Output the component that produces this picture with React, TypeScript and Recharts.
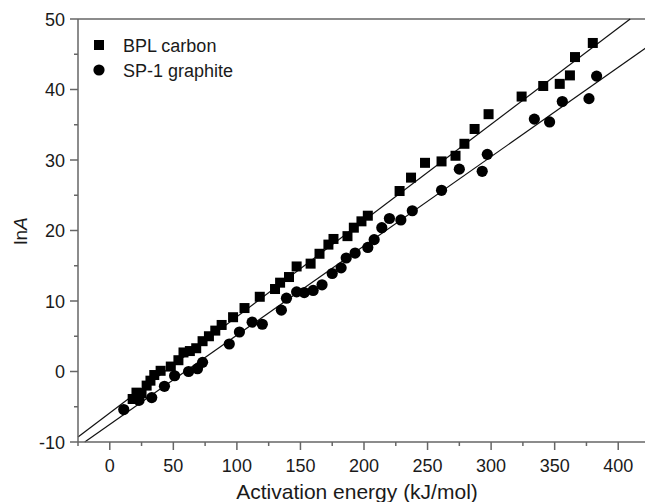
import {
  ComposedChart,
  Line,
  ReferenceLine,
  Scatter,
  XAxis,
  YAxis,
} from "recharts";

// ln A vs activation energy
const bplCarbon = [
  [18, -3.9], [21, -3.0], [25, -3.1], [29, -2.0], [32, -1.3], [35, -0.5],
  [40, 0.1], [48, 0.7], [54, 1.6], [58, 2.7], [63, 2.9], [68, 3.3],
  [73, 4.3], [78, 5.0], [83, 5.8], [88, 6.6], [97, 7.7], [106, 9.0],
  [118, 10.6], [130, 11.7], [134, 12.6], [141, 13.4], [147, 14.9],
  [158, 15.3], [165, 16.7], [172, 18.0], [176, 18.8], [187, 19.2],
  [192, 20.4], [198, 21.3], [203, 22.1], [228, 25.6], [237, 27.5],
  [248, 29.6], [261, 29.8], [272, 30.6], [279, 32.3], [287, 34.4],
  [298, 36.5], [324, 39.0], [341, 40.5], [354, 40.8], [362, 42.0],
  [366, 44.6], [380, 46.6],
];

const sp1Graphite = [
  [11, -5.4], [23, -4.1], [33, -3.7], [43, -2.1], [51, -0.6], [62, 0.0],
  [69, 0.4], [73, 1.3], [94, 3.9], [102, 5.6], [112, 7.0], [120, 6.7],
  [135, 8.7], [139, 10.4], [147, 11.3], [153, 11.2], [160, 11.5],
  [167, 12.3], [175, 13.9], [182, 14.7], [186, 16.1], [193, 16.8],
  [203, 17.6], [208, 18.7], [214, 20.4], [220, 21.7], [229, 21.5],
  [238, 22.8], [261, 25.7], [275, 28.7], [293, 28.4], [297, 30.8],
  [334, 35.8], [346, 35.4], [356, 38.3], [377, 38.7], [383, 41.9],
];

// end points of the two linear fits as drawn
const bplFit = [[-25, -9.3], [409.4, 50]];
const sp1Fit = [[-19.7, -10], [425, 46.3]];

const seriesNames = ["BPL carbon", "SP-1 graphite"];

const xTicks = [-25, 0, 25, 50, 75, 100, 125, 150, 175, 200, 225, 250, 275, 300, 325, 350, 375, 400, 425];
const yTicks = [-10, -5, 0, 5, 10, 15, 20, 25, 30, 35, 40, 45, 50];

const toPts = (arr: number[][]) => arr.map(([x, y]) => ({ x, y }));

const FONT = "'Liberation Sans', Arial, sans-serif";
const AXIS = "#666";
const TEXT = "#1a1a1a";

const XTick = ({ x, y, payload }: any) => {
  const major = payload.value % 50 === 0;
  return (
    <g>
      <line x1={x} x2={x} y1={y} y2={y + (major ? 8 : 4)} stroke={AXIS} strokeWidth={1.5} />
      {major && (
        <text x={x} y={y + 30} textAnchor="middle" fontSize={18} fill={TEXT} fontFamily={FONT}>
          {payload.value}
        </text>
      )}
    </g>
  );
};

const YTick = ({ x, y, payload }: any) => {
  const major = payload.value % 10 === 0;
  return (
    <g>
      <line x1={x} x2={x - (major ? 8 : 4)} y1={y} y2={y} stroke={AXIS} strokeWidth={1.5} />
      {major && (
        <text x={x - 13} y={y + 6.5} textAnchor="end" fontSize={18} fill={TEXT} fontFamily={FONT}>
          {payload.value}
        </text>
      )}
    </g>
  );
};

const square = ({ cx, cy }: any) => <rect x={cx - 5} y={cy - 5} width={10} height={10} fill="#000" />;
const circle = ({ cx, cy }: any) => <circle cx={cx} cy={cy} r={5.6} fill="#000" />;

export default function App() {
  return (
    <div style={{ position: "absolute", left: 0, top: 0, width: 645, height: 502, overflow: "hidden", background: "#fff" }}>
      <ComposedChart width={660} height={502} margin={{ top: 19, right: 10, bottom: 0, left: 0 }}>
        <XAxis
          type="number"
          dataKey="x"
          domain={[-25, 425]}
          ticks={xTicks}
          interval={0}
          height={60}
          tickSize={0}
          tickMargin={0}
          tickLine={false}
          axisLine={{ stroke: AXIS, strokeWidth: 1.5 }}
          tick={<XTick />}
          label={{
            content: () => (
              <text x={357} y={499} textAnchor="middle" fontSize={21} fill={TEXT} fontFamily={FONT}>
                Activation energy (kJ/mol)
              </text>
            ),
          }}
        />
        <YAxis
          type="number"
          dataKey="y"
          domain={[-10, 50]}
          ticks={yTicks}
          interval={0}
          width={78}
          tickSize={0}
          tickMargin={0}
          tickLine={false}
          axisLine={{ stroke: AXIS, strokeWidth: 1.5 }}
          tick={<YTick />}
          label={{
            content: () => (
              <text
                x={27}
                y={231}
                transform="rotate(-90, 27, 231)"
                textAnchor="middle"
                fontSize={19}
                fill={TEXT}
                fontFamily={FONT}
              >
                ln<tspan fontStyle="italic">A</tspan>
              </text>
            ),
          }}
        />
        <ReferenceLine y={50} stroke={AXIS} strokeWidth={1.5} />
        <ReferenceLine x={425} stroke={AXIS} strokeWidth={1.5} />
        <Line data={toPts(bplFit)} dataKey="y" type="linear" stroke="#111" strokeWidth={1.2} dot={false} isAnimationActive={false} />
        <Line data={toPts(sp1Fit)} dataKey="y" type="linear" stroke="#111" strokeWidth={1.2} dot={false} isAnimationActive={false} />
        <Scatter name={seriesNames[0]} data={toPts(bplCarbon)} dataKey="y" shape={square} isAnimationActive={false} />
        <Scatter name={seriesNames[1]} data={toPts(sp1Graphite)} dataKey="y" shape={circle} isAnimationActive={false} />
      </ComposedChart>
      <svg width={645} height={502} style={{ position: "absolute", left: 0, top: 0, pointerEvents: "none" }}>
        <rect x={94} y={40} width={10} height={10} fill="#000" />
        <text x={123} y={52} fontSize={18} fill={TEXT} fontFamily={FONT}>{seriesNames[0]}</text>
        <circle cx={99} cy={70} r={5.6} fill="#000" />
        <text x={123} y={77} fontSize={18} fill={TEXT} fontFamily={FONT}>{seriesNames[1]}</text>
      </svg>
    </div>
  );
}
